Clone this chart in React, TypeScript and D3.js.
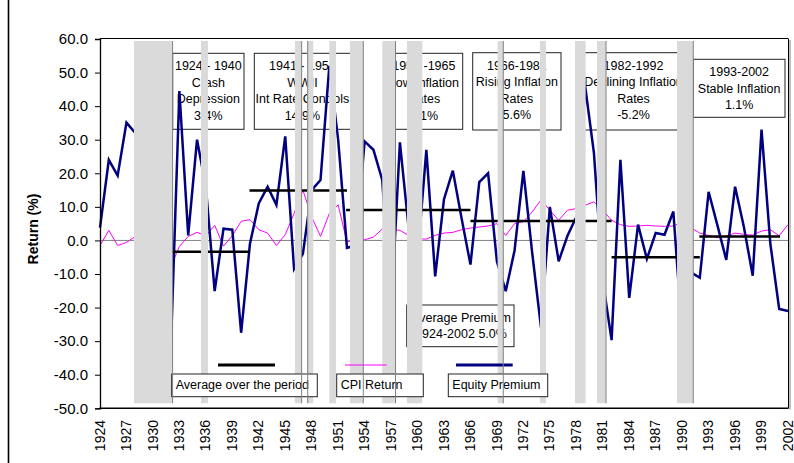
import React, { useEffect, useRef } from 'react';
import * as d3 from 'd3';

const W = 794, H = 463;
const FONT = 'Liberation Sans, Arial, sans-serif';

// categories
const years = d3.range(1924, 2003);
const xTickYears = d3.range(1924, 2003, 3);
const yTicks = [60, 50, 40, 30, 20, 10, 0, -10, -20, -30, -40, -50];

// series
const equityPremium = [
  3.8, 24.0, 19.3, 35.1, 32.0, -12.0, -28.0, -40.0, -35.0, 44.5,
  1.5, 30.0, 16.0, -15.1, 3.5, 3.2, -27.5, -1.0, 11.0, 16.0,
  10.6, 31.0, -8.5, -4.0, 15.0, 18.0, 52.0, 30.0, -2.2, -1.5,
  29.5, 27.0, 18.0, -22.0, 29.2, 3.5, -5.0, 27.0, -10.7, 12.3,
  20.8, 6.5, -7.2, 17.4, 20.0, -6.3, -15.1, -3.0, 20.7, -3.7,
  -26.0, 10.0, -6.2, 1.4, 7.0, 46.0, 26.0, -12.0, -29.7, 24.0,
  -17.1, 4.7, -5.5, 2.2, 1.7, 8.6, -28.0, -9.5, -11.1, 14.5,
  4.5, -5.8, 16.0, 4.0, -10.5, 33.0, -1.0, -20.4, -21.0
];
const cpiReturn = [
  -1.5, 3.0, -1.5, -0.6, 1.2, 0.5, -3.0, -8.0, -8.0, -1.8,
  1.2, 2.4, 1.4, 4.5, -1.7, 1.4, 5.7, 6.2, 3.2, 2.2,
  -1.5, 1.7, 8.0, 15.0, 7.0, 1.2, 8.0, 10.6, -0.5, 0.2,
  0.2, 1.0, 3.4, 3.3, 3.0, 1.5, 0.5, 0.4, 1.5, 2.2,
  2.4, 3.2, 3.7, 4.0, 4.3, 5.0, 1.5, 5.0, 5.6, 8.5,
  12.1, 9.0, 6.0, 9.0, 9.5, 10.5, 11.5, 9.0, 6.0, 4.7,
  4.2, 4.3, 4.5, 4.3, 4.2, 4.3, 5.4, 3.8, 2.2, 1.5,
  0.8, 1.3, 2.2, 1.8, 1.6, 2.8, 3.2, 1.4, 4.7
];

// period averages
const avgStart = [1932.2, 1940.95, 1951.9, 1966.0, 1982.0, 1991.95];
const avgEnd = [1941.0, 1952.0, 1966.0, 1982.0, 1992.0, 2001.1];
const avgValue = [-3.4, 14.9, 9.1, 5.8, -5.0, 1.2];

// grey bands and divider lines (in years)
const bandStart = [1927.85, 1935.45, 1946.1, 1947.47, 1950.0, 1952.34, 1956.0, 1958.8, 1969.08, 1973.88, 1977.85, 1980.35, 1989.42];
const bandEnd = [1932.23, 1936.24, 1946.86, 1948.18, 1950.76, 1953.85, 1957.5, 1960.54, 1969.72, 1974.56, 1979.06, 1981.37, 1991.26];
const dividerYears = [1932.23, 1946.86, 1947.55, 1953.85, 1957.5, 1969.72, 1981.37, 1991.26];
const bandTop = 59.4, bandBottom = -48.5;

// annotation texts
const periodText = [
  ['1924 - 1940', 'Crash', 'Depression', '3.4%'],
  ['1941 - 1951', 'WWII', 'Int Rate Controls', '14.9%'],
  ['1952 -1965', 'Low Inflation', 'Rates', '9.1%'],
  ['1966-1981', 'Rising Inflation', 'Rates', '5.6%'],
  ['1982-1992', 'Declining Inflation', 'Rates', '-5.2%'],
  ['1993-2002', 'Stable Inflation', '1.1%']
];
const premiumText = ['Average Premium', '1924-2002 5.0%'];
const legendText = ['Average over the period', 'CPI Return', 'Equity Premium'];

// layout of the annotation boxes (pixels)
const periodBox = [
  { x0: 172.7, x1: 244, y0: 53.3, y1: 129.3 },
  { x0: 254.3, x1: 350.5, y0: 53.3, y1: 129.3 },
  { x0: 385, x1: 462.7, y0: 53.3, y1: 129.3 },
  { x0: 472.7, x1: 561, y0: 52.7, y1: 130 },
  { x0: 579, x1: 688, y0: 52.7, y1: 130 },
  { x0: 693.3, x1: 785, y0: 59.3, y1: 117.3 }
];

export default function App() {
  const ref = useRef<SVGSVGElement>(null);

  useEffect(() => {
    const svg = d3.select(ref.current);
    svg.selectAll('*').remove();

    const x = d3.scaleLinear().domain([1924, 2002]).range([100, 788]);
    const y = d3.scaleLinear().domain([-50, 60]).range([408.3, 39]);

    // chart area left edge
    svg.append('line').attr('x1', 8.5).attr('x2', 8.5).attr('y1', 0).attr('y2', H)
      .attr('stroke', '#000').attr('stroke-width', 1.6);

    // plot frame
    svg.append('line').attr('x1', 100).attr('x2', 788).attr('y1', 38.5).attr('y2', 38.5)
      .attr('stroke', '#000').attr('stroke-width', 1);
    svg.append('line').attr('x1', 788.5).attr('x2', 788.5).attr('y1', 38.5).attr('y2', 408.3)
      .attr('stroke', '#000').attr('stroke-width', 1);
    svg.append('line').attr('x1', 790).attr('x2', 790).attr('y1', 40).attr('y2', 409.5)
      .attr('stroke', '#aaa').attr('stroke-width', 1.5);

    // zero line
    svg.append('line').attr('x1', 100).attr('x2', 788).attr('y1', y(0)).attr('y2', y(0))
      .attr('stroke', '#808080').attr('stroke-width', 1);

    // period boxes
    periodBox.forEach((b, i) => {
      svg.append('rect').attr('x', b.x0).attr('y', b.y0)
        .attr('width', b.x1 - b.x0).attr('height', b.y1 - b.y0)
        .attr('fill', '#fff').attr('stroke', '#222').attr('stroke-width', 1);
      const cx = (b.x0 + b.x1) / 2;
      periodText[i].forEach((t, j) => {
        svg.append('text').attr('x', cx).attr('y', b.y0 + 17 + j * 16.5)
          .attr('text-anchor', 'middle').style('font-family', FONT).style('font-size', '12.5px')
          .attr('fill', '#000').text(t);
      });
    });

    // average premium box
    svg.append('rect').attr('x', 406.7).attr('y', 305).attr('width', 107.3).attr('height', 41.7)
      .attr('fill', '#fff').attr('stroke', '#222').attr('stroke-width', 1);
    premiumText.forEach((t, j) => {
      svg.append('text').attr('x', 461).attr('y', 321.5 + j * 16)
        .attr('text-anchor', 'middle').style('font-family', FONT).style('font-size', '12.5px')
        .text(t);
    });

    // series
    const line = d3.line<number>().x((d, i) => x(years[i])).y(d => y(d));
    svg.append('path').datum(cpiReturn).attr('d', line)
      .attr('fill', 'none').attr('stroke', '#FF00FF').attr('stroke-width', 1);
    svg.append('path').datum(equityPremium).attr('d', line)
      .attr('fill', 'none').attr('stroke', '#000080').attr('stroke-width', 2.5)
      .attr('stroke-linejoin', 'miter');

    svg.selectAll('.avg').data(avgValue).join('line').attr('class', 'avg')
      .attr('x1', (d, i) => x(avgStart[i])).attr('x2', (d, i) => x(avgEnd[i]))
      .attr('y1', d => y(d)).attr('y2', d => y(d))
      .attr('stroke', '#000').attr('stroke-width', 2.5);

    // grey bands
    svg.selectAll('.band').data(bandStart).join('rect').attr('class', 'band')
      .attr('x', d => x(d)).attr('width', (d, i) => x(bandEnd[i]) - x(d))
      .attr('y', y(bandTop)).attr('height', y(bandBottom) - y(bandTop))
      .attr('fill', '#DADADA');

    // legend
    const legendY = 365;
    const legendSamples = [
      { x0: 218, x1: 275, color: '#000', w: 3 },
      { x0: 345, x1: 386.7, color: '#FF00FF', w: 1 },
      { x0: 456, x1: 512.7, color: '#000080', w: 3 }
    ];
    const legendBoxes = [
      { x0: 171.7, x1: 317.3 },
      { x0: 336.7, x1: 423.3 },
      { x0: 448.3, x1: 547.7 }
    ];
    legendSamples.forEach(s => {
      svg.append('line').attr('x1', s.x0).attr('x2', s.x1).attr('y1', legendY).attr('y2', legendY)
        .attr('stroke', s.color).attr('stroke-width', s.w);
    });
    legendBoxes.forEach((b, i) => {
      svg.append('rect').attr('x', b.x0).attr('y', 374).attr('width', b.x1 - b.x0).attr('height', 22.7)
        .attr('fill', '#fff').attr('stroke', '#222').attr('stroke-width', 1);
      svg.append('text').attr('x', b.x0 + 4).attr('y', 388.5)
        .style('font-family', FONT).style('font-size', '12.5px').text(legendText[i]);
    });

    // divider lines
    svg.selectAll('.divider').data(dividerYears).join('line').attr('class', 'divider')
      .attr('x1', d => x(d)).attr('x2', d => x(d))
      .attr('y1', y(bandTop)).attr('y2', y(bandBottom))
      .attr('stroke', '#808080').attr('stroke-width', 1);

    // y axis
    const yAxis = svg.append('g').attr('transform', 'translate(100,0)')
      .call(d3.axisLeft(y).tickValues(yTicks).tickSize(5).tickPadding(7).tickFormat(d => (+d).toFixed(1)));
    yAxis.select('.domain').attr('stroke', '#000').attr('stroke-width', 1.3);
    yAxis.selectAll('.tick line').attr('stroke', '#000');
    yAxis.selectAll('text').style('font-family', FONT).style('font-size', '15px').attr('fill', '#000');

    // x axis
    svg.append('line').attr('x1', 99.5).attr('x2', 788.5).attr('y1', 408.3).attr('y2', 408.3)
      .attr('stroke', '#000').attr('stroke-width', 1.5);
    svg.selectAll('.xlab').data(xTickYears).join('text').attr('class', 'xlab')
      .attr('transform', d => `translate(${x(d)},${420}) rotate(-90)`)
      .attr('text-anchor', 'end').attr('dy', '0.33em')
      .style('font-family', FONT).style('font-size', '14px').attr('fill', '#000')
      .text(d => String(d));

    // y title
    svg.append('text').attr('transform', 'translate(33,229) rotate(-90)')
      .attr('text-anchor', 'middle').attr('dy', '0.35em')
      .style('font-family', FONT).style('font-size', '14px').style('font-weight', 'bold')
      .text('Return (%)');
  }, []);

  return (
    <svg ref={ref} width={W} height={H}
      style={{ position: 'absolute', left: 0, top: 0, background: '#fff' }} />
  );
}
